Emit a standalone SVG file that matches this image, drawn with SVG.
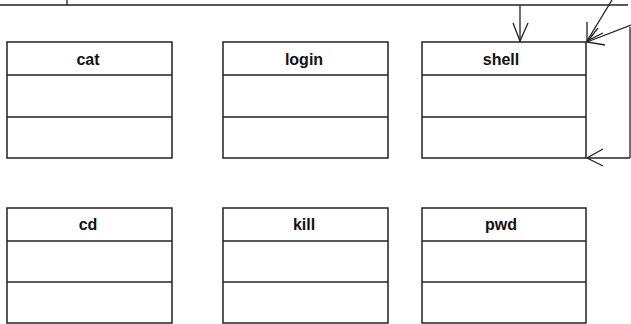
<svg xmlns="http://www.w3.org/2000/svg" width="631" height="324" viewBox="0 0 631 324">
<style>
.box{fill:#fff;stroke:#222;stroke-width:1.5}
.div{stroke:#222;stroke-width:1.5}
.lbl{font-family:"Liberation Sans",Arial,sans-serif;font-weight:bold;font-size:16px;fill:#111;text-anchor:middle}
.ln{stroke:#222;stroke-width:1.3;fill:none}
</style>
<rect width="631" height="324" fill="#fff"/>
<g id="frame">
<line class="ln" x1="0" y1="5" x2="628" y2="5"/>
<line class="ln" x1="67" y1="0" x2="67" y2="5"/>
</g>
<g id="cat">
<rect class="box" x="7" y="42" width="165" height="116"/>
<line class="div" x1="7" y1="75" x2="172" y2="75"/>
<line class="div" x1="7" y1="117" x2="172" y2="117"/>
<text class="lbl" x="88" y="65">cat</text>
</g>
<g id="login">
<rect class="box" x="223" y="42" width="165" height="116"/>
<line class="div" x1="223" y1="75" x2="388" y2="75"/>
<line class="div" x1="223" y1="117" x2="388" y2="117"/>
<text class="lbl" x="304" y="65">login</text>
</g>
<g id="shell">
<rect class="box" x="422" y="42" width="164" height="116"/>
<line class="div" x1="422" y1="75" x2="586" y2="75"/>
<line class="div" x1="422" y1="117" x2="586" y2="117"/>
<text class="lbl" x="501" y="65">shell</text>
</g>
<g id="cd">
<rect class="box" x="7" y="208" width="165" height="115"/>
<line class="div" x1="7" y1="241" x2="172" y2="241"/>
<line class="div" x1="7" y1="282" x2="172" y2="282"/>
<text class="lbl" x="88" y="230">cd</text>
</g>
<g id="kill">
<rect class="box" x="223" y="208" width="165" height="115"/>
<line class="div" x1="223" y1="241" x2="388" y2="241"/>
<line class="div" x1="223" y1="282" x2="388" y2="282"/>
<text class="lbl" x="304" y="230">kill</text>
</g>
<g id="pwd">
<rect class="box" x="422" y="208" width="164" height="115"/>
<line class="div" x1="422" y1="241" x2="586" y2="241"/>
<line class="div" x1="422" y1="282" x2="586" y2="282"/>
<text class="lbl" x="501" y="230">pwd</text>
</g>
<g id="connectors">
<line class="ln" x1="520" y1="5" x2="520" y2="42"/>
<polyline class="ln" points="513,23 520,41 528,23"/>
<line class="ln" x1="612" y1="0" x2="587" y2="41"/>
<polyline class="ln" points="587,22 587,41 603,33"/>
<line class="ln" x1="631" y1="25" x2="587" y2="42"/>
<polyline class="ln" points="598,28 587,42 605,45"/>
<line class="ln" x1="630" y1="27" x2="630" y2="158"/>
<line class="ln" x1="630" y1="158" x2="587" y2="158"/>
<polyline class="ln" points="603,149 587,158 603,166"/>
</g>
</svg>
